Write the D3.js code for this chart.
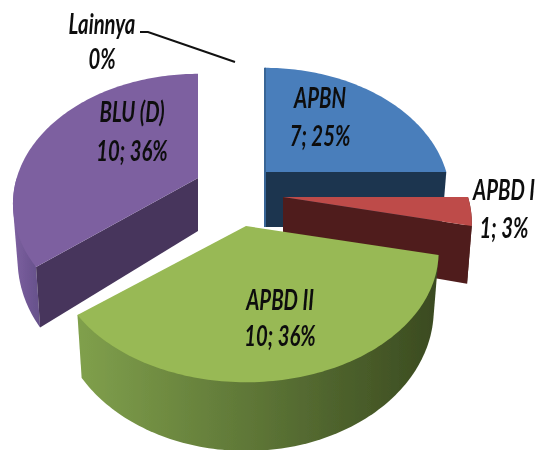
<!DOCTYPE html>
<html>
<head>
<meta charset="utf-8">
<script src="https://cdn.jsdelivr.net/npm/d3@7"></script>
<style>
  html, body { margin: 0; padding: 0; background: #fff; }
  svg { display: block; }
  .label { font-family: Lato, sans-serif; font-style: italic; font-weight: 700; font-size: 29px; fill: #111; }
</style>
</head>
<body>
<div id="chart"></div>
<script>
const categories = ['APBN', 'APBD I', 'APBD II', 'BLU (D)', 'Lainnya'];
const values = [7, 1, 10, 10, 0];
const valueLabels = ['7; 25%', '1; 3%', '10; 36%', '10; 36%', '0%'];

// per slice drawing setup, apex = where the exploded slice tip lands
const apex = { 'APBN': [265, 172], 'APBD I': [283, 197], 'APBD II': [246, 226], 'BLU (D)': [198, 178] };
const sliceScale = { 'APBN': 0.98, 'APBD I': 1, 'APBD II': 1.02, 'BLU (D)': 0.98 };
const sliceDepth = { 'APBN': 55, 'APBD I': 55, 'APBD II': 55, 'BLU (D)': 53 };
const topColor = { 'APBN': '#4a7ebb', 'APBD I': '#be4b48', 'APBD II': '#98b954', 'BLU (D)': '#7d60a0' };
const cutColor = { 'APBN': '#1f3550', 'APBD I': '#4f1e1c', 'BLU (D)': '#47365c' };
const wallStops = {
    'APBD I': ['#4f1e1c', '#4f1e1c'],
    'APBD II': ['#80a04c', '#3a4a20'],
    'BLU (D)': ['#7d60a0', '#65508a']
};
const labelPos = {
    'APBN': [320, 108, 146],
    'APBD I': [504, 200, 238],
    'APBD II': [280, 310, 346],
    'BLU (D)': [132, 122, 161],
    'Lainnya': [102, 34, 69]
};

const width = 536;
const height = 450;

// flattened disc with a bit of perspective: front is nearer than back
const rx = 185;
const ry = 125;
const persp = 0.2;
const lowShrink = 0.975;

const svg = d3.select('#chart')
    .append('svg')
    .attr('width', width)
    .attr('height', height);

const defs = svg.append('defs');
defs.append('filter').attr('id', 'soft')
    .append('feGaussianBlur').attr('stdDeviation', 0.5);

const slices = d3.pie().sort(null).value((d, i) => values[i])(categories);

function project(name, a, low) {
    const o = apex[name];
    const k = sliceScale[name];
    const X = Math.sin(a);
    const Z = -Math.cos(a);
    const s = 1 / (1 - Z * persp);
    // the bottom plane sits further away, so it is a little narrower
    const xr = rx * k * (low ? lowShrink : 1);
    return [o[0] + xr * X * s, o[1] + ry * Z * s + (low ? sliceDepth[name] * s : 0)];
}

function arcPoints(name, a0, a1, low) {
    const n = Math.max(2, Math.ceil((a1 - a0) / 0.02));
    return d3.range(n + 1).map(i => project(name, a0 + (a1 - a0) * i / n, low));
}

const line = d3.line().curve(d3.curveLinear);
const chart = svg.append('g').attr('filter', 'url(#soft)');

// back to front so nearer slices cover the others
['APBN', 'BLU (D)', 'APBD I', 'APBD II'].forEach(name => {
    const slice = slices[categories.indexOf(name)];
    const o = apex[name];
    const a0 = slice.startAngle;
    const a1 = slice.endAngle;
    const g = chart.append('g').attr('class', 'slice');

    // outer wall, only the part facing the viewer
    const w0 = Math.max(a0, Math.PI / 2);
    const w1 = Math.min(a1, Math.PI * 1.5);
    if (w1 > w0 && wallStops[name]) {
        const top = arcPoints(name, w0, w1, false);
        const low = arcPoints(name, w0, w1, true);
        const pts = top.concat(low);
        const xs = d3.extent(pts, d => d[0]);
        const id = 'wall' + categories.indexOf(name);
        const grad = defs.append('linearGradient').attr('id', id)
            .attr('gradientUnits', 'userSpaceOnUse')
            .attr('x1', xs[1]).attr('x2', xs[0]).attr('y1', 0).attr('y2', 0);
        grad.append('stop').attr('offset', 0).attr('stop-color', wallStops[name][1]);
        grad.append('stop').attr('offset', 1).attr('stop-color', wallStops[name][0]);
        // hull keeps the silhouette smooth where the two arcs cross
        g.append('path')
            .attr('d', line(d3.polygonHull(pts)) + 'Z')
            .attr('fill', `url(#${id})`);
    }

    // cut faces
    const faces = [];
    if (a1 < Math.PI) faces.push(a1);
    if (a0 > Math.PI) faces.push(a0);
    faces.forEach(a => {
        const tip = project(name, a, false);
        const tipLow = project(name, a, true);
        g.append('path')
            .attr('d', line([o, tip, tipLow, [o[0], o[1] + sliceDepth[name]]]) + 'Z')
            .attr('fill', cutColor[name]);
    });

    // top face
    g.append('path')
        .attr('d', line([o].concat(arcPoints(name, a0, a1, false))) + 'Z')
        .attr('fill', topColor[name]);
});

// darker rim on the left side of the blue slice
const blueTip = project('APBN', 0, false);
chart.append('path')
    .attr('d', line([[apex['APBN'][0], apex['APBN'][1] + sliceDepth['APBN']], apex['APBN'], blueTip]))
    .attr('fill', 'none')
    .attr('stroke', '#386596')
    .attr('stroke-width', 2);

// leader line for the empty slice
svg.append('path')
    .attr('d', line([[140, 32], [148, 32], [235, 62]]))
    .attr('fill', 'none')
    .attr('stroke', '#111')
    .attr('stroke-width', 2);

// the original text is squeezed sideways, so scale x
const labels = svg.append('g').attr('filter', 'url(#soft)');
categories.forEach((name, i) => {
    const p = labelPos[name];
    [[name, p[1]], [valueLabels[i], p[2]]].forEach(row => {
        labels.append('text')
            .attr('class', 'label')
            .attr('text-anchor', 'middle')
            .attr('transform', `translate(${p[0]},${row[1]}) scale(0.7,1)`)
            .text(row[0]);
    });
});
</script>
</body>
</html>
